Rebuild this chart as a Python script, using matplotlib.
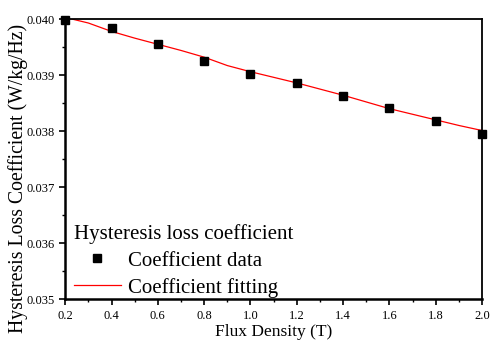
import numpy as np
import matplotlib
matplotlib.use("Agg")
import matplotlib.pyplot as plt
from matplotlib.ticker import MultipleLocator

plt.rcParams["font.family"] = ["Liberation Serif", "DejaVu Serif"]

flux = [0.2, 0.4, 0.6, 0.8, 1.0, 1.2, 1.4, 1.6, 1.8, 2.0]
coef = [0.03998, 0.03984, 0.03955, 0.03925, 0.03902, 0.03886, 0.03863, 0.03842, 0.03818, 0.03795]

fit_x = [0.2, 0.3, 0.4, 0.5, 0.6, 0.7, 0.8, 0.9, 1.0, 1.1, 1.2, 1.3, 1.4, 1.5, 1.6, 1.7, 1.8, 1.9, 2.0]
fit_y = [0.04003, 0.03993, 0.03978, 0.03966, 0.03955, 0.03944, 0.03932, 0.03917, 0.03906, 0.03896,
         0.03886, 0.03875, 0.03864, 0.03852, 0.03840, 0.03830, 0.03820, 0.03810, 0.03801]

fig = plt.figure(figsize=(4.9, 3.47), dpi=100)
ax = fig.add_axes([0.133, 0.138, 0.851, 0.807])

ax.plot(flux, coef, "s", color="black", markersize=6, label="Coefficient data", clip_on=False, zorder=3)
ax.plot(fit_x, fit_y, "-", color="red", linewidth=0.9, label="Coefficient fitting")

ax.set_xlim(0.2, 2.0)
ax.set_ylim(0.035, 0.040)
ax.xaxis.set_major_locator(MultipleLocator(0.2))
ax.xaxis.set_minor_locator(MultipleLocator(0.1))
ax.yaxis.set_major_locator(MultipleLocator(0.001))
ax.yaxis.set_minor_locator(MultipleLocator(0.0005))
ax.xaxis.set_major_formatter(plt.FuncFormatter(lambda v, p: f"{v:.1f}"))
ax.yaxis.set_major_formatter(plt.FuncFormatter(lambda v, p: f"{v:.3f}"))

ax.tick_params(which="major", direction="out", length=4, width=1.2, labelsize=9)
ax.tick_params(which="minor", direction="out", length=2.5, width=1.0)
for s in ax.spines.values():
    s.set_linewidth(1.3)
ax.spines["left"].set_linewidth(1.8)
ax.spines["bottom"].set_linewidth(1.8)

ax.set_xlabel("Flux Density (T)", fontsize=12.5, labelpad=2)
ax.set_ylabel("Hysteresis Loss Coefficient (W/kg/Hz)", fontsize=14.2)
ax.yaxis.set_label_coords(-0.09, 0.432)

leg = ax.legend(title="Hysteresis loss coefficient", loc="lower left", frameon=False,
                fontsize=15, title_fontsize=15, handlelength=2.3, handletextpad=0.3,
                borderaxespad=0.0, labelspacing=0.35, bbox_to_anchor=(0.0, -0.025))
leg._legend_box.align = "left"

fig.savefig("out.png", dpi=100)
